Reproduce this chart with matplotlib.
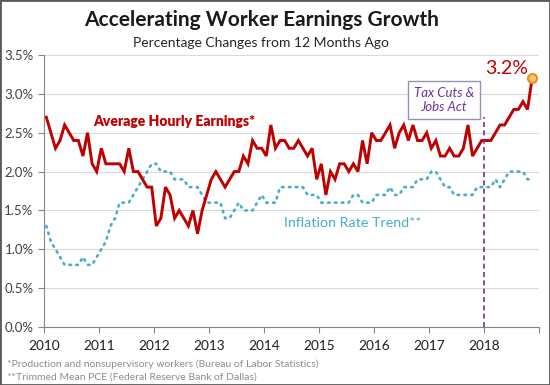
import numpy as np
import matplotlib
matplotlib.use('Agg')
import matplotlib.pyplot as plt
from matplotlib.ticker import FuncFormatter

plt.rcParams['font.family'] = ['Lato', 'DejaVu Sans']

# monthly, Jan 2010 .. Nov 2018 (percent change from 12 months ago)
earnings = [
    2.7, 2.5, 2.3, 2.4, 2.6, 2.5, 2.4, 2.4, 2.2, 2.5, 2.1, 2.0,   # 2010
    2.3, 2.1, 2.1, 2.1, 2.1, 2.0, 2.3, 2.0, 2.0, 1.9, 1.8, 1.8,   # 2011
    1.3, 1.4, 1.8, 1.7, 1.4, 1.5, 1.4, 1.3, 1.5, 1.2, 1.5, 1.7,   # 2012
    1.9, 2.0, 1.9, 1.8, 1.9, 2.0, 2.0, 2.2, 2.1, 2.4, 2.3, 2.3,   # 2013
    2.2, 2.6, 2.3, 2.4, 2.4, 2.3, 2.3, 2.4, 2.3, 2.2, 2.3, 1.9,   # 2014
    2.1, 1.7, 2.0, 1.9, 2.1, 2.1, 2.0, 2.1, 2.0, 2.4, 2.1, 2.5,   # 2015
    2.4, 2.4, 2.5, 2.6, 2.3, 2.5, 2.6, 2.4, 2.6, 2.4, 2.4, 2.5,   # 2016
    2.3, 2.4, 2.2, 2.2, 2.3, 2.2, 2.2, 2.3, 2.6, 2.2, 2.3, 2.4,   # 2017
    2.4, 2.4, 2.5, 2.6, 2.6, 2.7, 2.8, 2.8, 2.9, 2.8, 3.2,        # 2018
]
inflation = [
    1.3, 1.1, 1.0, 0.9, 0.8, 0.8, 0.8, 0.8, 0.9, 0.8, 0.8, 0.9,   # 2010
    1.0, 1.1, 1.3, 1.4, 1.6, 1.6, 1.6, 1.7, 1.8, 1.9, 2.0, 2.1,   # 2011
    2.1, 2.0, 2.0, 2.0, 1.9, 1.9, 1.9, 1.8, 1.8, 1.8, 1.7, 1.6,   # 2012
    1.6, 1.6, 1.6, 1.4, 1.4, 1.5, 1.6, 1.5, 1.5, 1.5, 1.6, 1.7,   # 2013
    1.6, 1.6, 1.6, 1.8, 1.8, 1.8, 1.8, 1.8, 1.8, 1.7, 1.7, 1.7,   # 2014
    1.6, 1.6, 1.6, 1.6, 1.6, 1.6, 1.6, 1.7, 1.7, 1.6, 1.6, 1.6,   # 2015
    1.7, 1.7, 1.7, 1.8, 1.7, 1.7, 1.8, 1.8, 1.8, 1.9, 1.9, 1.9,   # 2016
    2.0, 2.0, 1.9, 1.8, 1.8, 1.7, 1.7, 1.7, 1.7, 1.7, 1.8, 1.8,   # 2017
    1.8, 1.8, 1.9, 1.8, 1.9, 2.0, 2.0, 2.0, 2.0, 1.9, 1.9,        # 2018
]
years = list(range(2010, 2019))
policy_date = 2018.0

red = '#C00000'
blue = '#4BACC6'
purple = '#7030A0'

x = 2010 + (np.arange(len(earnings)) + 0.5) / 12.0

fig = plt.figure(figsize=(5.5, 3.85), dpi=100)
ax = fig.add_axes([0.08, 0.1506, 0.9, 0.7065])

ax.plot(x, inflation, color=blue, lw=1.9, ls=(0, (0.6, 2.0)),
        dash_capstyle='round')
ax.plot(x, earnings, color=red, lw=2.1, solid_joinstyle='miter')
ax.plot(x[-1], earnings[-1], 'o', ms=6.5, mfc='#FBC36A', mec='#E8901E', mew=1.5)

ax.set_xlim(2010, 2019)
ax.set_ylim(0, 3.5)
ax.set_yticks(np.arange(0, 3.51, 0.5))
ax.yaxis.set_major_formatter(FuncFormatter(lambda v, p: '%.1f%%' % v))
ax.set_xticks(range(2010, 2020))
ax.set_xticklabels([str(y) for y in years] + [''])
ax.grid(axis='y', color='#d9d9d9', lw=0.8)
ax.set_axisbelow(True)
for s in ['top', 'right']:
    ax.spines[s].set_visible(False)
for s in ['left', 'bottom']:
    ax.spines[s].set_color('#868686')
ax.tick_params(axis='both', colors='#868686', labelcolor='#404040',
               labelsize=9.5, length=4, direction='out')
ax.tick_params(axis='x', labelcolor='#1f1f1f', labelsize=9.8, pad=5)

# Tax Cuts & Jobs Act marker
ax.plot([policy_date, policy_date], [0, 2.70], color=purple, lw=1.2,
        ls=(0, (3, 2)))
ax.text(2017.27, 2.92, 'Tax Cuts &\nJobs Act', ha='center', va='center',
        fontsize=9.5, style='italic', color=purple, linespacing=1.25,
        bbox=dict(boxstyle='square,pad=0.45', fc='white', ec='#9a90b0',
                  lw=1.0))

ax.text(2010.89, 2.65, 'Average Hourly Earnings*', color=red,
        fontsize=10.0, fontweight='heavy', va='center')
ax.text(2014.37, 1.34, 'Inflation Rate Trend**', color=blue,
        fontsize=10.3, va='center')
ax.text(2018.80, 3.33, '3.2%', color=red, fontsize=14, ha='right',
        va='center')

fig.text(0.475, 0.948, 'Accelerating Worker Earnings Growth', ha='center',
         va='center', fontsize=15, fontweight='bold', color='#1a1a1a')
fig.text(0.475, 0.888, 'Percentage Changes from 12 Months Ago', ha='center',
         va='center', fontsize=10, color='#262626')
fig.text(0.012, 0.053, '*Production and nonsupervisory workers (Bureau of Labor Statistics)',
         fontsize=7.5, color='#8c8c8c', va='center')
fig.text(0.012, 0.021, '**Trimmed Mean PCE (Federal Reserve Bank of Dallas)',
         fontsize=7.5, color='#8c8c8c', va='center')

fig.patches.append(plt.Rectangle((0, 0), 1, 1, transform=fig.transFigure,
                                 fill=False, ec='#595959', lw=2.0))

fig.savefig('out.png', dpi=100)
